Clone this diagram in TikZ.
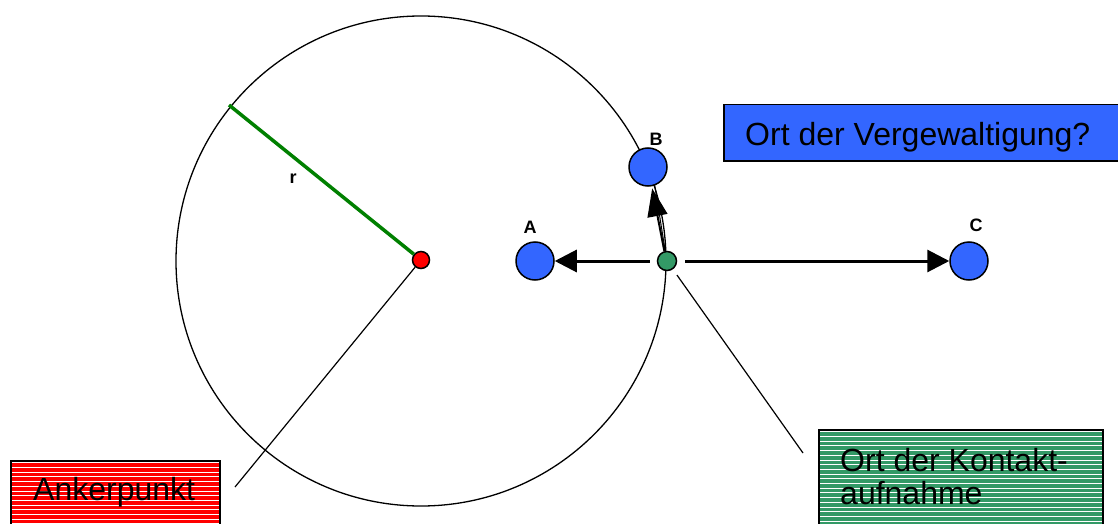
\documentclass[tikz,border=0pt]{standalone}
\usepackage{fontspec}
\setmainfont{Liberation Sans}
\usetikzlibrary{arrows.meta}
\definecolor{myblue}{RGB}{51,102,255}
\definecolor{mygreen}{RGB}{51,153,102}
\definecolor{linegreen}{RGB}{0,128,0}
\tikzset{
  dot/.style={circle,draw=black,line width=1.5pt,inner sep=0pt},
  bigdot/.style={dot,fill=myblue,minimum size=38pt},
  lbl/.style={font=\bfseries\fontsize{18}{20}\selectfont,inner sep=0pt,anchor=base},
  bigtxt/.style={font=\fontsize{32}{37}\selectfont,align=left,inner sep=0pt,anchor=base west},
  bigarrow/.style={line width=3pt,-{Triangle[length=22pt,width=22pt]}},
  leader/.style={line width=1.2pt},
  stripes/.style={path picture={\foreach \k in {0,...,40}{\draw[white,line width=0.9pt]
     ([yshift=-2pt-\k*4.7pt]path picture bounding box.north west) --
     ([yshift=-2pt-\k*4.7pt]path picture bounding box.north east);}}},
  tbox/.style={draw=black,line width=1.5pt,anchor=north west,inner sep=0pt},
}
\begin{document}
\begin{tikzpicture}[x=1pt,y=-1pt]
\clip (0,0) rectangle (1118,524);
\fill[white] (0,0) rectangle (1118,524);
% big circle
\draw[line width=1.3pt] (421,261) circle (245);
% nodes
\node[dot,fill=red,minimum size=17pt] (anchor) at (421,260) {};
\node[dot,fill=mygreen,minimum size=19pt] (contact) at (667,261) {};
\node[bigdot] (A) at (535,261) {};
\node[bigdot] (B) at (648,167) {};
\node[bigdot] (C) at (969,261) {};
\node[lbl] (lA) at (530,233) {A};
\node[lbl] (lB) at (656,145) {B};
\node[lbl] (lC) at (976,231) {C};
% radius
\coordinate (rim) at (229,105);
\draw[linegreen,line width=3.5pt] (anchor) -- (rim);
\node[lbl] (lr) at (293,183) {r};
% arrows
\draw[bigarrow,shorten <=7pt] (contact) -- (A);
\draw[bigarrow,shorten <=8pt] (contact) -- (C);
\draw[line width=1pt] (contact.100) -- (B.290);
\draw[line width=2pt,-{Triangle[length=28pt,width=20pt]},shorten >=2pt] (contact.105) -- (B);
% boxes
\node[tbox,fill=red,stripes,minimum width=209pt,minimum height=80pt] (boxAnk) at (10,460) {};
\node[tbox,fill=mygreen,stripes,minimum width=284pt,minimum height=110pt] (boxKon) at (818,429) {};
\node[tbox,fill=myblue,minimum width=410pt,minimum height=56pt] (boxOrt) at (723,104) {};
\node[bigtxt] (tAnk) at (33,500) {Ankerpunkt};
\node[bigtxt] (tKon1) at (840,471.5) {Ort der Kontakt-};
\node[bigtxt] (tKon2) at (840,504) {aufnahme};
\node[bigtxt] (tOrt) at (745,145) {Ort der Vergewaltigung?};
% leader lines
\coordinate (ankTip) at (235,487);
\coordinate (konTip) at (803,453);
\draw[leader] (anchor) -- (ankTip);
\draw[leader,shorten <=7pt] (contact) -- (konTip);
\end{tikzpicture}
\end{document}
